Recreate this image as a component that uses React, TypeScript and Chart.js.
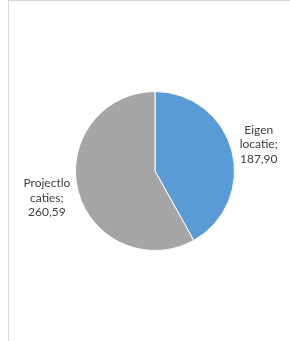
import React, { useEffect, useRef } from "react";
import { Chart, registerables } from "chart.js";

Chart.register(...registerables);

const categories = ["Eigen locatie", "Projectlocaties"];
const values = [187.9, 260.59];
const labelLines = [
  ["Eigen", "locatie;", "187,90"],
  ["Projectlo", "caties;", "260,59"],
];
const colors = ["#5B9BD5", "#A5A5A5"];

const labelPlugin = {
  id: "pieLabels",
  afterDatasetsDraw(chart: any) {
    const ctx = chart.ctx;
    const meta = chart.getDatasetMeta(0);
    ctx.save();
    ctx.font = "12px Lato, 'Liberation Sans', sans-serif";
    ctx.fillStyle = "#404040";
    ctx.textAlign = "center";
    ctx.textBaseline = "middle";
    const lh = 14.5;
    meta.data.forEach((arc: any, i: number) => {
      const { x, y, startAngle, endAngle, outerRadius } = arc.getProps(
        ["x", "y", "startAngle", "endAngle", "outerRadius"],
        true
      );
      const mid = (startAngle + endAngle) / 2;
      const lines = labelLines[i];
      const maxW = Math.max(...lines.map((t) => ctx.measureText(t).width));
      const side = Math.cos(mid) >= 0 ? 1 : -1;
      const cx = x + Math.cos(mid) * (outerRadius + 8) + (side * maxW) / 2;
      const cy = y + Math.sin(mid) * (outerRadius + 27);
      const n = lines.length;
      lines.forEach((t, k) => {
        ctx.fillText(t, cx, cy + (k - (n - 1) / 2) * lh);
      });
    });
    ctx.restore();
  },
};

export default function App() {
  const ref = useRef<HTMLCanvasElement>(null);
  useEffect(() => {
    if (!ref.current) return;
    const chart = new Chart(ref.current, {
      type: "pie",
      data: {
        labels: categories,
        datasets: [
          {
            data: values,
            backgroundColor: colors,
            borderColor: "#ffffff",
            borderWidth: 1,
          },
        ],
      },
      options: {
        responsive: false,
        animation: false,
        events: [],
        layout: { padding: { left: 75, right: 55, top: 91, bottom: 90 } },
        plugins: {
          legend: { display: false },
          tooltip: { enabled: false },
          title: { display: false },
        },
      },
      plugins: [labelPlugin],
    });
    return () => chart.destroy();
  }, []);
  return (
    <div
      style={{
        position: "absolute",
        left: 0,
        top: 0,
        width: 290,
        height: 341,
        background: "#fff",
        overflow: "hidden",
      }}
    >
      <div
        style={{
          position: "absolute",
          left: 8,
          top: 0,
          width: 290,
          height: 341,
          borderTop: "1px solid #d9d9d9",
          borderLeft: "1px solid #d9d9d9",
          boxSizing: "border-box",
        }}
      />
      <canvas
        ref={ref}
        width={290}
        height={341}
        style={{ position: "absolute", left: 0, top: 0, width: 290, height: 341 }}
      />
    </div>
  );
}
